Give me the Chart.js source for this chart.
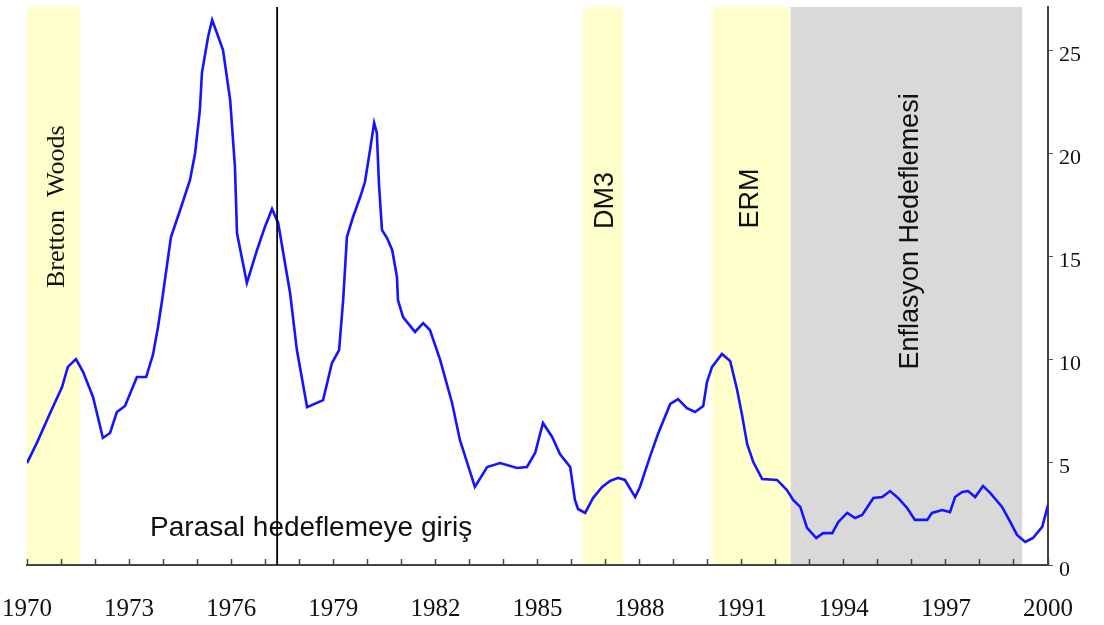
<!DOCTYPE html>
<html>
<head>
<meta charset="utf-8">
<script src="https://cdn.jsdelivr.net/npm/chart.js@4"></script>
<style>
html,body{margin:0;padding:0;background:#fff;}
#wrap{width:1104px;height:625px;}
</style>
</head>
<body>
<div id="wrap"><canvas id="c" width="1104" height="625"></canvas></div>
<script>
// ---- data ----
const years = [
 1970.00,1970.29,1970.68,1971.03,1971.20,1971.44,1971.65,1971.94,1972.23,1972.44,
 1972.64,1972.88,1973.23,1973.50,1973.70,1973.85,1973.97,1974.23,1974.50,1974.79,
 1974.94,1975.08,1975.14,1975.32,1975.44,1975.58,1975.76,1975.97,1976.11,1976.17,
 1976.46,1976.76,1976.99,1977.20,1977.38,1977.73,1977.93,1978.23,1978.70,1978.96,
 1979.17,1979.29,1979.40,1979.58,1979.79,1979.93,1980.08,1980.20,1980.28,1980.34,
 1980.43,1980.58,1980.73,1980.87,1980.90,1981.05,1981.40,1981.64,1981.84,1982.14,
 1982.49,1982.72,1983.16,1983.52,1983.90,1984.40,1984.69,1984.93,1985.16,1985.43,
 1985.66,1985.96,1986.10,1986.19,1986.40,1986.63,1986.90,1987.13,1987.37,1987.57,
 1987.87,1988.01,1988.31,1988.54,1988.90,1989.13,1989.39,1989.63,1989.87,1989.98,
 1990.13,1990.42,1990.66,1990.86,1991.01,1991.16,1991.34,1991.60,1992.04,1992.33,
 1992.51,1992.72,1992.92,1993.19,1993.39,1993.66,1993.84,1994.10,1994.33,1994.54,
 1994.87,1995.13,1995.36,1995.60,1995.86,1996.09,1996.45,1996.59,1996.89,1997.12,
 1997.27,1997.48,1997.65,1997.86,1998.09,1998.30,1998.65,1998.89,1999.09,1999.33,
 1999.56,1999.83,2000.00
];
const inflation = [
 4.95,5.93,7.38,8.64,9.62,10.0,9.37,8.16,6.17,6.41,
 7.43,7.72,9.13,9.13,10.2,11.56,12.87,15.93,17.24,18.7,
 20.01,22.1,23.9,25.64,26.47,25.84,25.01,22.58,19.33,16.12,
 13.7,15.3,16.42,17.29,16.61,13.21,10.44,7.67,8.01,9.81,
 10.44,12.87,15.93,16.9,17.87,18.6,20.16,21.47,20.98,18.55,
 16.27,15.88,15.3,13.99,12.87,12.04,11.32,11.75,11.41,9.96,
 7.87,6.07,3.79,4.76,4.95,4.71,4.76,5.44,6.9,6.22,
 5.39,4.76,3.16,2.72,2.53,3.25,3.79,4.08,4.23,4.13,
 3.3,3.79,5.29,6.36,7.82,8.06,7.62,7.43,7.72,8.89,
 9.62,10.25,9.91,8.55,7.29,5.88,5.0,4.18,4.13,3.64,
 3.16,2.82,1.8,1.31,1.55,1.55,2.09,2.53,2.28,2.43,
 3.25,3.3,3.59,3.25,2.77,2.19,2.19,2.53,2.67,2.57,
 3.3,3.55,3.59,3.3,3.84,3.5,2.82,2.09,1.46,1.12,
 1.31,1.85,2.91
];
const xLabelYears = [1970,1973,1976,1979,1982,1985,1988,1991,1994,1997,2000];
const yTickValues = [0,5,10,15,20,25];
const bandStart = [1970.0, 1986.34, 1990.15, 1992.44];
const bandEnd   = [1971.55, 1987.51, 1992.44, 1999.24];
const bandNames = ['Bretton  Woods', 'DM3', 'ERM', 'Enflasyon Hedeflemesi'];
const targetingStart = 1977.35;
const targetingLabel = 'Parasal hedeflemeye giriş';

// ---- styling / placement ----
const Y_MAX = 27.1;
const SERIF = '"Liberation Serif", "Times New Roman", serif';
const SANS = '"Liberation Sans", Arial, sans-serif';
const bandColors = ['#ffffcc', '#ffffcc', '#ffffcc', '#d9d9d9'];
const bandLabelPlace = [
  {x: 1970.88, y: 17.4, font: '26px ' + SERIF},
  {x: 1986.99, y: 17.7, font: '27px ' + SANS},
  {x: 1991.25, y: 17.8, font: '27px ' + SANS},
  {x: 1995.95, y: 16.2, font: '27px ' + SANS}
];
const targetingLabelPlace = {x: 1978.35, y: 1.8, font: '28px ' + SANS};

const minorYears = [];
for (let yv = 1970; yv <= 2000; yv++) minorYears.push(yv);

function noPad(s) { s.paddingLeft = 0; s.paddingRight = 0; s.paddingTop = 0; s.paddingBottom = 0; }

const decorPlugin = {
  id: 'decor',
  beforeDraw(chart) {
    const {ctx, chartArea, scales} = chart;
    const xs = scales.x;
    ctx.save();
    for (let i = 0; i < bandStart.length; i++) {
      const x1 = xs.getPixelForValue(bandStart[i]);
      const x2 = xs.getPixelForValue(bandEnd[i]);
      ctx.fillStyle = bandColors[i];
      ctx.fillRect(x1, chartArea.top, x2 - x1, chartArea.bottom - chartArea.top);
    }
    ctx.restore();
  },
  beforeDatasetsDraw(chart) {
    const {ctx, scales} = chart;
    const xs = scales.x, ys = scales.y;
    ctx.save();
    ctx.fillStyle = '#111';
    ctx.textAlign = 'center';
    ctx.textBaseline = 'middle';
    for (let i = 0; i < bandNames.length; i++) {
      const p = bandLabelPlace[i];
      ctx.save();
      ctx.translate(xs.getPixelForValue(p.x), ys.getPixelForValue(p.y));
      ctx.rotate(-Math.PI / 2);
      ctx.font = p.font;
      ctx.fillText(bandNames[i], 0, 0);
      ctx.restore();
    }
    ctx.font = targetingLabelPlace.font;
    ctx.fillText(targetingLabel, xs.getPixelForValue(targetingLabelPlace.x), ys.getPixelForValue(targetingLabelPlace.y));
    ctx.restore();
  }
};

new Chart(document.getElementById('c'), {
  type: 'scatter',
  data: {
    datasets: [
      {
        data: years.map((yr, i) => ({x: yr, y: inflation[i]})),
        showLine: true, borderColor: '#1414ff', borderWidth: 2.6,
        pointRadius: 0, tension: 0, order: 2
      },
      {
        data: [{x: targetingStart, y: 0}, {x: targetingStart, y: Y_MAX}],
        showLine: true, borderColor: '#000', borderWidth: 1.8,
        pointRadius: 0, order: 1
      }
    ]
  },
  options: {
    responsive: false, animation: false, devicePixelRatio: 1,
    layout: {padding: {left: 27, top: 7, right: 0, bottom: 0}},
    plugins: {legend: {display: false}, tooltip: {enabled: false}},
    scales: {
      x: {
        type: 'linear', position: 'bottom', min: 1970, max: 2000,
        afterBuildTicks: s => { s.ticks = minorYears.map(v => ({value: v})); },
        afterFit: s => { s.height = 60; noPad(s); },
        ticks: {
          autoSkip: false, maxRotation: 0, padding: 35, color: '#111',
          font: {family: SERIF, size: 25},
          callback: v => xLabelYears.includes(v) ? String(v) : ''
        },
        grid: {drawOnChartArea: false, drawTicks: true, tickLength: -6, color: '#444', tickWidth: 1.5},
        border: {display: true, color: '#444', width: 2}
      },
      y: {
        type: 'linear', position: 'right', min: 0, max: Y_MAX,
        afterBuildTicks: s => { s.ticks = yTickValues.map(v => ({value: v})); },
        afterFit: s => { s.width = 56; noPad(s); },
        ticks: {padding: 6, labelOffset: 5, color: '#111', font: {family: SERIF, size: 22}},
        grid: {drawOnChartArea: false, drawTicks: true, tickLength: 5, color: '#555'},
        border: {display: true, color: '#444', width: 2}
      }
    }
  },
  plugins: [decorPlugin]
});
</script>
</body>
</html>
